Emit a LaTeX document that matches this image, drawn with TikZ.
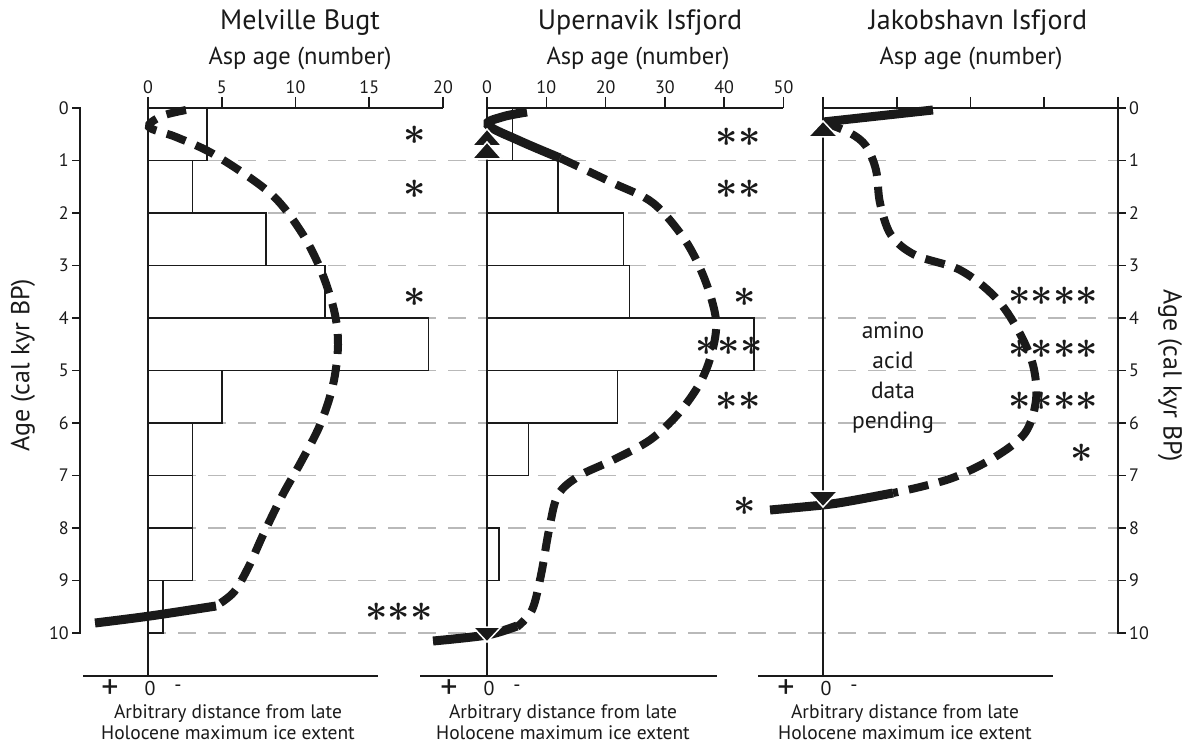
\documentclass[tikz,border=0pt]{standalone}
\usepackage{graphicx}
\usepackage{fontspec}
\setmainfont{PT Sans}
\usetikzlibrary{calc}
\definecolor{GridGray}{HTML}{B9B9B9}
\definecolor{InkBlack}{HTML}{1A1A1A}
\newcommand{\starmark}[1]{\scalebox{3.9}{\boldmath$#1$}}

\begin{document}
\begin{tikzpicture}[x=1pt, y=-1pt, InkBlack,
    title/.style={font=\fontsize{28}{28}\selectfont, inner sep=0pt},
    subtitle/.style={font=\fontsize{24.5}{24.5}\selectfont, inner sep=0pt},
    ticklbl/.style={font=\fontsize{18}{18}\selectfont, inner sep=0pt},
    footlbl/.style={font=\fontsize{19.5}{21.5}\selectfont, inner sep=0pt, align=center},
    stars/.style={inner sep=0pt},
    axisline/.style={line width=1.6pt},
    bar/.style={line width=1.5pt, fill=white},
    gridline/.style={GridGray, line width=1.3pt, dash pattern=on 18pt off 12pt},
    iceline/.style={line width=8pt, dash pattern=on 20pt off 11pt},
    icesolid/.style={line width=9pt},
    marker/.style={fill=InkBlack, draw=white, line width=1.5pt}]

    % Frame of the page
    \useasboundingbox (0,0) rectangle (1186,746);
    \fill[white] (0,0) rectangle (1186,746);

    % Gray age lines
    \foreach \k in {1,...,10}
        \draw[gridline] (148,{108+52.5*\k}) -- (1118,{108+52.5*\k});

    % Left age axis
    \draw[axisline] (72,108) -- (80,108) -- (80,633) -- (72,633);
    \foreach \k in {0,...,10} {
        \draw[axisline] (72,{108+52.5*\k}) -- (80,{108+52.5*\k});
        \node[ticklbl, anchor=east] (ageL\k) at (69,{108+52.5*\k}) {\k};
    }
    \node[subtitle, font=\fontsize{26}{26}\selectfont, rotate=90] (ageLeft) at (23,365) {Age (cal kyr BP)};

    % Right age axis
    \draw[axisline] (1118,97) -- (1118,633) -- (1126,633);
    \foreach \k in {0,...,10} {
        \draw[axisline] (1118,{108+52.5*\k}) -- (1126,{108+52.5*\k});
        \node[ticklbl, anchor=west] (ageR\k) at (1129,{108+52.5*\k}) {\k};
    }
    \node[subtitle, font=\fontsize{26}{26}\selectfont, rotate=-90] (ageRight) at (1170,376) {Age (cal kyr BP)};

    % Melville Bugt histogram
    \foreach \k/\v in {0/4,1/3,2/8,3/12,4/19,5/5,6/3,7/3,8/3,9/1}
        \draw[bar] (148,{108+52.5*\k}) rectangle ({148+14.75*\v},{108+52.5*(\k+1)});
    \draw[axisline] (148,108) -- (443,108);
    \foreach \v in {0,5,...,20} {
        \draw[axisline] ({148+14.75*\v},97) -- ({148+14.75*\v},108);
        \node[ticklbl] (mbTick\v) at ({148+14.75*\v},87) {\v};
    }
    \node[title] (mbTitle) at (300,23) {Melville Bugt};
    \node[subtitle] (mbAsp) at (300,58) {Asp age (number)};
    \draw[axisline] (148,108) -- (148,676);
    \draw[axisline] (83,676) -- (378,676);

    % Upernavik Isfjord histogram
    \foreach \k/\v in {0/4.3,1/12,2/23,3/24,4/45,5/22,6/7,8/2}
        \draw[bar] (487,{108+52.5*\k}) rectangle ({487+5.93*\v},{108+52.5*(\k+1)});
    \draw[axisline] (487,108) -- (783,108);
    \foreach \v in {0,10,...,50} {
        \draw[axisline] ({487+5.93*\v},97) -- ({487+5.93*\v},108);
        \node[ticklbl] (uiTick\v) at ({487+5.93*\v},87) {\v};
    }
    \node[title] (uiTitle) at (640,23) {Upernavik Isfjord};
    \node[subtitle] (uiAsp) at (638,58) {Asp age (number)};
    \draw[axisline] (487,108) -- (487,676);
    \draw[axisline] (420,676) -- (717,676);

    % Jakobshavn Isfjord axes
    \draw[axisline] (823,108) -- (1118,108);
    \foreach \i in {0,...,3}
        \draw[axisline] ({823+73.75*\i},97) -- ({823+73.75*\i},108);
    \node[title] (jiTitle) at (978,23) {Jakobshavn Isfjord};
    \node[subtitle] (jiAsp) at (971,58) {Asp age (number)};
    \draw[axisline] (823,108) -- (823,676);
    \draw[axisline] (758,676) -- (1053,676);
    \node[font=\fontsize{23.5}{30}\selectfont, align=center, inner sep=0pt] (pending) at (893,378) {amino\\acid\\data\\pending};

    % Ice margin curves
    \draw[iceline] plot[smooth, tension=0.55] coordinates {(186,110) (162,116) (149,127) (176,137) (215,155) (270,193) (300,230) (320,268) (334,310) (338,345) (333,385) (320,425) (301,462) (282,496) (263,535) (249,566) (234,592) (216,606)};
    \draw[icesolid] plot[smooth] coordinates {(216,606) (150,616) (95,623)};

    \draw[icesolid] plot[smooth, tension=0.6] coordinates {(527,112) (502,117) (488,125) (520,141) (560,158)};
    \draw[iceline] plot[smooth, tension=0.55] coordinates {(560,158) (613,183) (653,203) (685,240) (705,280) (716,320) (712,352) (700,383) (678,414) (650,440) (613,460) (579,476) (558,495) (549,530) (541,575) (532,610) (517,627)};
    \draw[icesolid] plot[smooth] coordinates {(517,626) (487,635) (433,641)};

    \draw[icesolid] (933,110) -- (823,122);
    \draw[iceline] plot[smooth, tension=0.55] coordinates {(823,122) (850,133) (866,146) (876,170) (880,203) (891,235) (915,255) (960,270) (995,297) (1018,330) (1033,365) (1036,400) (1025,433) (995,457) (955,477) (920,487) (893,493)};
    \draw[icesolid] plot[smooth] coordinates {(893,493) (850,501) (823,505) (770,510)};

    % Markers on the zero lines
    \draw[marker] (487,129) -- (502,146) -- (472,146) -- cycle;
    \draw[marker] (487,142) -- (502,159) -- (472,159) -- cycle;
    \draw[marker] (487,642) -- (473,627) -- (501,627) -- cycle;
    \draw[marker] (823,121) -- (838,137) -- (808,137) -- cycle;
    \draw[marker] (823,507) -- (808,491) -- (838,491) -- cycle;

    % Asterisks
    \node[stars] (mbS1) at (415,135) {\starmark{{\ast}}};
    \node[stars] (mbS2) at (415,189) {\starmark{{\ast}}};
    \node[stars] (mbS4) at (415,297) {\starmark{{\ast}}};
    \node[stars] (mbS10) at (399,612) {\starmark{{\ast}{\ast}{\ast}}};
    \node[stars] (uiS1) at (738,137) {\starmark{{\ast}{\ast}}};
    \node[stars] (uiS2) at (738,189) {\starmark{{\ast}{\ast}}};
    \node[stars] (uiS4) at (745,297) {\starmark{{\ast}}};
    \node[stars] (uiS5) at (729,346) {\starmark{{\ast}{\ast}{\ast}}};
    \node[stars] (uiS6) at (738,401) {\starmark{{\ast}{\ast}}};
    \node[stars] (uiS8) at (745,506) {\starmark{{\ast}}};
    \node[stars] (jiS4) at (1053,296) {\starmark{{\ast}{\ast}{\ast}{\ast}}};
    \node[stars] (jiS5) at (1053,349) {\starmark{{\ast}{\ast}{\ast}{\ast}}};
    \node[stars] (jiS6) at (1053,401) {\starmark{{\ast}{\ast}{\ast}{\ast}}};
    \node[stars] (jiS7) at (1082,453) {\starmark{{\ast}}};

    % Distance axis labels
    \foreach \x/\p in {110/mb,449/ui,786/ji} {
        \node[font=\fontsize{34}{34}\selectfont, inner sep=0pt] (\p Plus) at (\x,689) {+};
        \node[font=\fontsize{20}{20}\selectfont, inner sep=0pt] (\p Zero) at ({\x+40},688) {0};
        \node[font=\fontsize{20}{20}\selectfont, inner sep=0pt] (\p Minus) at ({\x+68},688) {-};
    }
    \node[footlbl] (mbFoot) at (228,722) {Arbitrary distance from late\\Holocene maximum ice extent};
    \node[footlbl] (uiFoot) at (563,722) {Arbitrary distance from late\\Holocene maximum ice extent};
    \node[footlbl] (jiFoot) at (905,722) {Arbitrary distance from late\\Holocene maximum ice extent};

\end{tikzpicture}
\end{document}
